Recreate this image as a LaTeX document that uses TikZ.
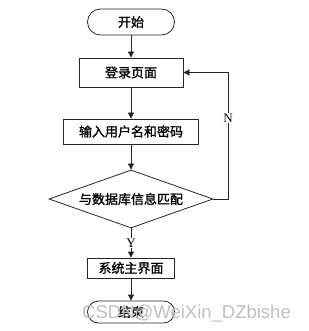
\documentclass[tikz,border=0pt]{standalone}
\usepackage{fontspec}
\newfontfamily\cjk[FakeBold=1.2]{Noto Sans CJK SC}
\newfontfamily\markfont{Liberation Sans}
\newfontfamily\labelfont{Liberation Serif}
\usetikzlibrary{arrows.meta,shapes.geometric}
\tikzset{
  flow line/.style={draw=black!85,line width=.8pt},
  flow arrow/.style={flow line,-{Triangle[length=6pt,width=6pt]}},
  flow term/.style={flow line,rounded corners=11pt,minimum width=87pt,inner sep=0pt,font=\cjk\fontsize{13}{13}\selectfont},
  flow box/.style={flow line,inner sep=0pt,font=\cjk\fontsize{13}{13}\selectfont},
  flow test/.style={flow line,diamond,aspect=2.83,minimum width=164pt,minimum height=58pt,inner sep=0pt,font=\cjk\fontsize{13}{13}\selectfont},
  flow label/.style={fill=white,inner sep=1pt,font=\labelfont\fontsize{13}{13}\selectfont}
}
\begin{document}
\begin{tikzpicture}[x=1pt,y=-1pt]
  \useasboundingbox (0,0) rectangle (308,331);
  % steps
  \node[flow term,minimum height=26pt,rounded corners=13pt] (start) at (131,22) {开始};
  \node[flow box,minimum width=104pt,minimum height=29pt] (login) at (131,72.5) {登录页面};
  \node[flow box,minimum width=135pt,minimum height=25pt] (input) at (131,131.5) {输入用户名和密码};
  \node[flow test] (check) at (131,199) {与数据库信息匹配};
  \node[flow box,minimum width=87pt,minimum height=20pt] (home) at (131,268) {系统主界面};
  \node[flow term,minimum height=22pt] (stop) at (131,312) {结束};
  \coordinate (loop) at (228,199);
  % connectors
  \draw[flow arrow] (start) -- (login);
  \draw[flow arrow] (login) -- (input);
  \draw[flow arrow] (input) -- (check);
  \draw[flow arrow] (check) -- node[flow label] {Y} (home);
  \draw[flow arrow] (home) -- (stop);
  \draw[flow arrow] (check.east) -- (loop) |- node[flow label,pos=.32] {N} (login.east);
  % watermark
  \node[anchor=base west,inner sep=0pt,text=gray!50,font=\markfont\fontsize{18.5}{18.5}\selectfont] (mark) at (82,318) {CSDN@WeiXin\_DZbishe};
\end{tikzpicture}
\end{document}
